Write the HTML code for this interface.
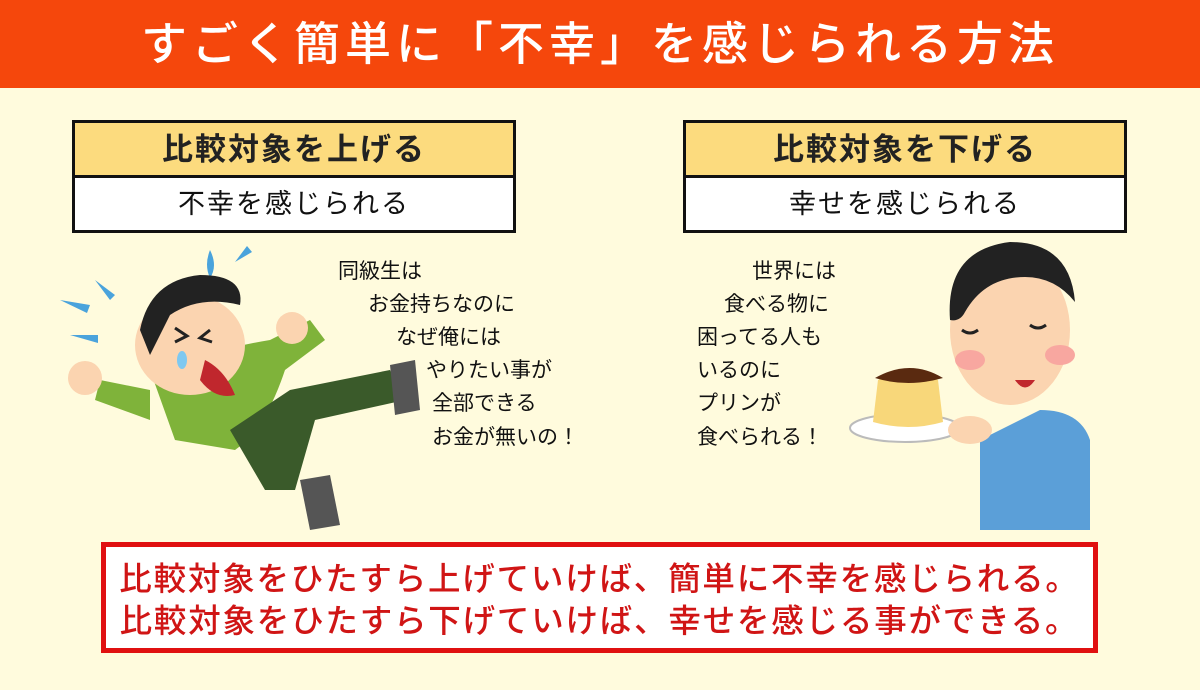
<!DOCTYPE html>
<html><head><meta charset="utf-8"><style>
*{margin:0;padding:0;box-sizing:border-box}
body{width:1200px;height:690px;background:#fffbdd;position:relative;overflow:hidden;font-family:"Liberation Sans","Noto Sans CJK JP",sans-serif}
.hd{position:absolute;left:0;top:0;width:1200px;height:88px;background:#f5470c;color:#fff;font-size:46px;font-weight:500;text-align:center;line-height:88px;letter-spacing:5px}
.box{position:absolute;top:120px;width:444px;height:113px;border:3px solid #111;background:#fff}
.box .a{height:55px;background:#fcdb7e;border-bottom:3px solid #111;font-size:31px;font-weight:700;text-align:center;line-height:53px;color:#222;letter-spacing:2px}
.box .b{font-size:27px;text-align:center;line-height:52px;color:#111;letter-spacing:2px}
.t{position:absolute;font-size:21px;color:#111;line-height:22px;white-space:nowrap}
.sum{position:absolute;left:101px;top:542px;width:997px;height:111px;border:5px solid #e01010;background:#fff;color:#d01515;font-size:32.5px;font-weight:500;text-align:center;line-height:42px;padding-top:11px;letter-spacing:1.8px}
</style></head><body>
<div class="hd">すごく簡単に「不幸」を感じられる方法</div>
<div class="box" style="left:72px"><div class="a">比較対象を上げる</div><div class="b">不幸を感じられる</div></div>
<div class="box" style="left:683px"><div class="a">比較対象を下げる</div><div class="b">幸せを感じられる</div></div>

<div class="t" style="left:338px;top:261px">同級生は</div>
<div class="t" style="left:368px;top:294px">お金持ちなのに</div>
<div class="t" style="left:396px;top:327px">なぜ俺には</div>
<div class="t" style="left:426px;top:360px">やりたい事が</div>
<div class="t" style="left:432px;top:393px">全部できる</div>
<div class="t" style="left:432px;top:427px">お金が無いの！</div>

<div class="t" style="left:752px;top:261px">世界には</div>
<div class="t" style="left:724px;top:294px">食べる物に</div>
<div class="t" style="left:697px;top:327px">困ってる人も</div>
<div class="t" style="left:697px;top:360px">いるのに</div>
<div class="t" style="left:697px;top:393px">プリンが</div>
<div class="t" style="left:697px;top:427px">食べられる！</div>

<svg style="position:absolute;left:0;top:0" width="1200" height="690">
<g>
<path d="M210 250 q-6 15 0 28 q8 -12 0 -28z" fill="#4aa3dc"/>
<path d="M235 262 l12 -16 l5 6z" fill="#4aa3dc"/>
<path d="M60 300 l30 5 l-3 8z M70 335 l28 0 l0 8z M95 280 l20 15 l-5 5z" fill="#4aa3dc"/>
<path d="M150 370 q60 -20 120 -30 l40 -20 l15 20 l-40 30 q-20 60 -50 80 l-60 -10 z" fill="#7fb33a"/>
<path d="M150 390 l-50 -10 l-5 20 l55 20z" fill="#7fb33a"/>
<path d="M230 430 l60 -40 l100 -20 l15 30 l-90 20 l-20 70 l-30 0 z" fill="#3a5a2a"/>
<path d="M390 365 l25 -5 l5 50 l-25 5z" fill="#555"/>
<path d="M300 480 l30 -5 l10 50 l-30 5z" fill="#555"/>
<circle cx="85" cy="378" r="17" fill="#fbd4b0"/>
<circle cx="292" cy="328" r="16" fill="#fbd4b0"/>
<ellipse cx="190" cy="345" rx="55" ry="50" fill="#fbd4b0"/>
<path d="M140 330 q10 -50 60 -55 q45 0 40 30 q-40 -10 -70 10 q-10 20 -20 40z" fill="#222"/>
<path d="M205 360 q20 10 30 35 q-20 5 -35 -15z" fill="#c0272d"/>
<path d="M175 328 l12 8 l-12 6 M210 330 l-10 8 l12 4" stroke="#222" stroke-width="3" fill="none"/>
<ellipse cx="182" cy="360" rx="5" ry="9" fill="#7ec8f0"/>
</g>
<g>
<path d="M980 440 l60 -30 q40 0 50 30 l0 90 l-110 0z" fill="#5b9fd8"/>
<ellipse cx="1010" cy="330" rx="60" ry="75" fill="#fbd4b0"/>
<path d="M950 320 q-5 -70 60 -78 q60 0 65 60 q-20 -25 -50 -25 q-40 0 -60 35 q-5 10 -15 8z" fill="#222"/>
<ellipse cx="970" cy="360" rx="15" ry="10" fill="#f8a7a0"/>
<ellipse cx="1060" cy="355" rx="15" ry="10" fill="#f8a7a0"/>
<path d="M962 330 q8 6 16 0 M1030 325 q8 6 16 0" stroke="#222" stroke-width="3" fill="none"/>
<path d="M1015 380 q10 15 20 0z" fill="#c0272d"/>
<ellipse cx="905" cy="428" rx="55" ry="14" fill="#fff" stroke="#bbb" stroke-width="2"/>
<path d="M878 380 q30 -15 60 0 l5 42 q-35 10 -70 0z" fill="#f8d77a"/>
<path d="M875 378 q35 -20 68 0 q-35 10 -68 0z" fill="#5a2a10"/>
<ellipse cx="970" cy="430" rx="22" ry="14" fill="#fbd4b0"/>
</g>
</svg>

<div class="sum">比較対象をひたすら上げていけば、簡単に不幸を感じられる。<br>比較対象をひたすら下げていけば、幸せを感じる事ができる。</div>
</body></html>
